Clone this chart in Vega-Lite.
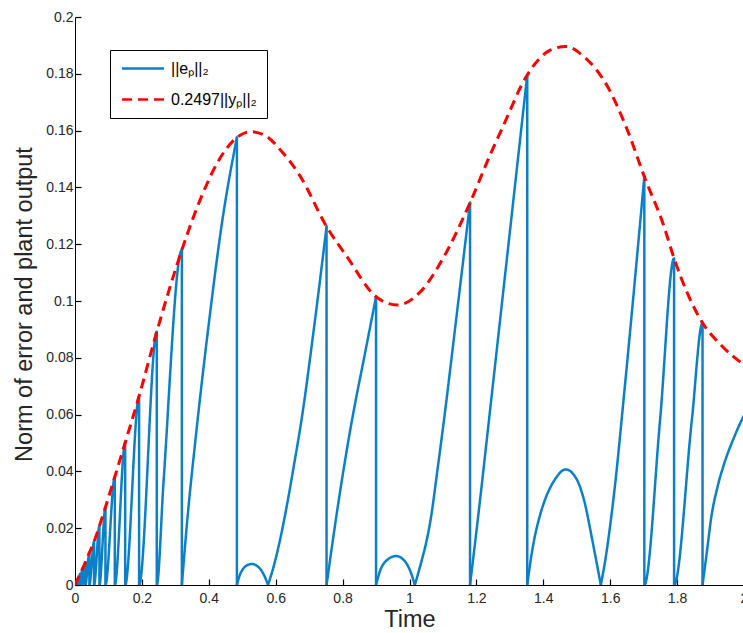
{
  "$schema": "https://vega.github.io/schema/vega-lite/v6.json",
  "width": 669,
  "height": 568,
  "autosize": {"type": "none"},
  "padding": {"left": 75, "top": 17, "right": 0, "bottom": 48},
  "background": "white",
  "config": {
    "view": {"stroke": null},
    "font": "Liberation Sans",
    "axis": {
      "grid": false,
      "domainColor": "black",
      "domainWidth": 1,
      "tickColor": "black",
      "tickSize": -6,
      "tickWidth": 1.2,
      "labelFont": "Liberation Sans",
      "labelFontSize": 14,
      "labelColor": "#262626",
      "labelFlush": false,
      "labelOverlap": false,
      "titleFont": "Liberation Sans",
      "titleFontSize": 23.5,
      "titleFontWeight": "normal",
      "titleColor": "#262626"
    },
    "legend": {
      "strokeColor": "black",
      "fillColor": "white",
      "padding": 10,
      "symbolSize": 196,
      "symbolOffset": 14.5,
      "labelOffset": 19.5,
      "labelFont": "Liberation Sans",
      "labelFontSize": 16,
      "labelColor": "black",
      "rowPadding": 14,
      "symbolStrokeWidth": 2.5,
      "labelLimit": 400
    }
  },
  "datasets": {
    "err": [
      {"series": "||eₚ||₂", "seg": 1, "i": 1, "t": 0, "v": 0},
      {"series": "||eₚ||₂", "seg": 1, "i": 2, "t": 0.005, "v": 0.0013},
      {"series": "||eₚ||₂", "seg": 1, "i": 3, "t": 0.005, "v": 0},
      {"series": "||eₚ||₂", "seg": 1, "i": 4, "t": 0.009, "v": 0.0023},
      {"series": "||eₚ||₂", "seg": 1, "i": 5, "t": 0.009, "v": 0},
      {"series": "||eₚ||₂", "seg": 1, "i": 6, "t": 0.015, "v": 0.0039},
      {"series": "||eₚ||₂", "seg": 1, "i": 7, "t": 0.015, "v": 0},
      {"series": "||eₚ||₂", "seg": 1, "i": 8, "t": 0.022, "v": 0.0057},
      {"series": "||eₚ||₂", "seg": 1, "i": 9, "t": 0.022, "v": 0},
      {"series": "||eₚ||₂", "seg": 1, "i": 10, "t": 0.031, "v": 0.008},
      {"series": "||eₚ||₂", "seg": 1, "i": 11, "t": 0.031, "v": 0},
      {"series": "||eₚ||₂", "seg": 1, "i": 12, "t": 0.043, "v": 0.0114},
      {"series": "||eₚ||₂", "seg": 1, "i": 13, "t": 0.043, "v": 0},
      {"series": "||eₚ||₂", "seg": 1, "i": 14, "t": 0.057, "v": 0.0153},
      {"series": "||eₚ||₂", "seg": 1, "i": 15, "t": 0.057, "v": 0},
      {"series": "||eₚ||₂", "seg": 1, "i": 16, "t": 0.073, "v": 0.0208},
      {"series": "||eₚ||₂", "seg": 1, "i": 17, "t": 0.073, "v": 0},
      {"series": "||eₚ||₂", "seg": 1, "i": 18, "t": 0.091, "v": 0.0274},
      {"series": "||eₚ||₂", "seg": 1, "i": 19, "t": 0.091, "v": 0},
      {"series": "||eₚ||₂", "seg": 1, "i": 20, "t": 0.119, "v": 0.0381},
      {"series": "||eₚ||₂", "seg": 1, "i": 21, "t": 0.119, "v": 0},
      {"series": "||eₚ||₂", "seg": 1, "i": 22, "t": 0.15, "v": 0.0501},
      {"series": "||eₚ||₂", "seg": 1, "i": 23, "t": 0.15, "v": 0},
      {"series": "||eₚ||₂", "seg": 1, "i": 24, "t": 0.1916, "v": 0.0665},
      {"series": "||eₚ||₂", "seg": 1, "i": 25, "t": 0.1916, "v": 0},
      {"series": "||eₚ||₂", "seg": 1, "i": 26, "t": 0.2445, "v": 0.0892},
      {"series": "||eₚ||₂", "seg": 1, "i": 27, "t": 0.2445, "v": 0},
      {"series": "||eₚ||₂", "seg": 1, "i": 28, "t": 0.2645, "v": 0.036},
      {"series": "||eₚ||₂", "seg": 1, "i": 29, "t": 0.3195, "v": 0.118},
      {"series": "||eₚ||₂", "seg": 1, "i": 30, "t": 0.3195, "v": 0},

      {"series": "||eₚ||₂", "seg": 2, "i": 1, "t": 0.3195, "v": 0},
      {"series": "||eₚ||₂", "seg": 2, "i": 2, "t": 0.335, "v": 0.022},
      {"series": "||eₚ||₂", "seg": 2, "i": 3, "t": 0.36, "v": 0.051},
      {"series": "||eₚ||₂", "seg": 2, "i": 4, "t": 0.4, "v": 0.092},
      {"series": "||eₚ||₂", "seg": 2, "i": 5, "t": 0.44, "v": 0.128},
      {"series": "||eₚ||₂", "seg": 2, "i": 6, "t": 0.484, "v": 0.1576},

      {"series": "||eₚ||₂", "seg": 3, "i": 1, "t": 0.484, "v": 0.1576},
      {"series": "||eₚ||₂", "seg": 3, "i": 2, "t": 0.484, "v": 0},

      {"series": "||eₚ||₂", "seg": 4, "i": 1, "t": 0.484, "v": 0},
      {"series": "||eₚ||₂", "seg": 4, "i": 2, "t": 0.492, "v": 0.0033},
      {"series": "||eₚ||₂", "seg": 4, "i": 3, "t": 0.502, "v": 0.0056},
      {"series": "||eₚ||₂", "seg": 4, "i": 4, "t": 0.515, "v": 0.007},
      {"series": "||eₚ||₂", "seg": 4, "i": 5, "t": 0.529, "v": 0.0074},
      {"series": "||eₚ||₂", "seg": 4, "i": 6, "t": 0.543, "v": 0.0068},
      {"series": "||eₚ||₂", "seg": 4, "i": 7, "t": 0.556, "v": 0.0053},
      {"series": "||eₚ||₂", "seg": 4, "i": 8, "t": 0.567, "v": 0.003},
      {"series": "||eₚ||₂", "seg": 4, "i": 9, "t": 0.577, "v": 0},

      {"series": "||eₚ||₂", "seg": 5, "i": 1, "t": 0.577, "v": 0},
      {"series": "||eₚ||₂", "seg": 5, "i": 2, "t": 0.595, "v": 0.007},
      {"series": "||eₚ||₂", "seg": 5, "i": 3, "t": 0.615, "v": 0.017},
      {"series": "||eₚ||₂", "seg": 5, "i": 4, "t": 0.635, "v": 0.029},
      {"series": "||eₚ||₂", "seg": 5, "i": 5, "t": 0.655, "v": 0.0425},
      {"series": "||eₚ||₂", "seg": 5, "i": 6, "t": 0.677, "v": 0.058},
      {"series": "||eₚ||₂", "seg": 5, "i": 7, "t": 0.715, "v": 0.091},
      {"series": "||eₚ||₂", "seg": 5, "i": 8, "t": 0.752, "v": 0.1262},

      {"series": "||eₚ||₂", "seg": 6, "i": 1, "t": 0.752, "v": 0.1262},
      {"series": "||eₚ||₂", "seg": 6, "i": 2, "t": 0.752, "v": 0},

      {"series": "||eₚ||₂", "seg": 7, "i": 1, "t": 0.752, "v": 0},
      {"series": "||eₚ||₂", "seg": 7, "i": 2, "t": 0.79, "v": 0.031},
      {"series": "||eₚ||₂", "seg": 7, "i": 3, "t": 0.828, "v": 0.058},
      {"series": "||eₚ||₂", "seg": 7, "i": 4, "t": 0.866, "v": 0.081},
      {"series": "||eₚ||₂", "seg": 7, "i": 5, "t": 0.9, "v": 0.1015},

      {"series": "||eₚ||₂", "seg": 8, "i": 1, "t": 0.9, "v": 0.1015},
      {"series": "||eₚ||₂", "seg": 8, "i": 2, "t": 0.9, "v": 0},

      {"series": "||eₚ||₂", "seg": 9, "i": 1, "t": 0.9, "v": 0},
      {"series": "||eₚ||₂", "seg": 9, "i": 2, "t": 0.913, "v": 0.0053},
      {"series": "||eₚ||₂", "seg": 9, "i": 3, "t": 0.933, "v": 0.0088},
      {"series": "||eₚ||₂", "seg": 9, "i": 4, "t": 0.96, "v": 0.0102},
      {"series": "||eₚ||₂", "seg": 9, "i": 5, "t": 0.985, "v": 0.0085},
      {"series": "||eₚ||₂", "seg": 9, "i": 6, "t": 1.002, "v": 0.005},
      {"series": "||eₚ||₂", "seg": 9, "i": 7, "t": 1.016, "v": 0},

      {"series": "||eₚ||₂", "seg": 10, "i": 1, "t": 1.016, "v": 0},
      {"series": "||eₚ||₂", "seg": 10, "i": 2, "t": 1.035, "v": 0.008},
      {"series": "||eₚ||₂", "seg": 10, "i": 3, "t": 1.05, "v": 0.015},
      {"series": "||eₚ||₂", "seg": 10, "i": 4, "t": 1.063, "v": 0.0229},
      {"series": "||eₚ||₂", "seg": 10, "i": 5, "t": 1.083, "v": 0.04},
      {"series": "||eₚ||₂", "seg": 10, "i": 6, "t": 1.103, "v": 0.058},
      {"series": "||eₚ||₂", "seg": 10, "i": 7, "t": 1.142, "v": 0.096},
      {"series": "||eₚ||₂", "seg": 10, "i": 8, "t": 1.181, "v": 0.1346},

      {"series": "||eₚ||₂", "seg": 11, "i": 1, "t": 1.181, "v": 0.1346},
      {"series": "||eₚ||₂", "seg": 11, "i": 2, "t": 1.181, "v": 0},

      {"series": "||eₚ||₂", "seg": 12, "i": 1, "t": 1.181, "v": 0},
      {"series": "||eₚ||₂", "seg": 12, "i": 2, "t": 1.21, "v": 0.029},
      {"series": "||eₚ||₂", "seg": 12, "i": 3, "t": 1.2375, "v": 0.058},
      {"series": "||eₚ||₂", "seg": 12, "i": 4, "t": 1.295, "v": 0.119},
      {"series": "||eₚ||₂", "seg": 12, "i": 5, "t": 1.352, "v": 0.1796},

      {"series": "||eₚ||₂", "seg": 13, "i": 1, "t": 1.352, "v": 0.1796},
      {"series": "||eₚ||₂", "seg": 13, "i": 2, "t": 1.352, "v": 0},

      {"series": "||eₚ||₂", "seg": 14, "i": 1, "t": 1.352, "v": 0},
      {"series": "||eₚ||₂", "seg": 14, "i": 2, "t": 1.362, "v": 0.0085},
      {"series": "||eₚ||₂", "seg": 14, "i": 3, "t": 1.372, "v": 0.0155},
      {"series": "||eₚ||₂", "seg": 14, "i": 4, "t": 1.387, "v": 0.0232},
      {"series": "||eₚ||₂", "seg": 14, "i": 5, "t": 1.402, "v": 0.029},
      {"series": "||eₚ||₂", "seg": 14, "i": 6, "t": 1.435, "v": 0.0372},
      {"series": "||eₚ||₂", "seg": 14, "i": 7, "t": 1.467, "v": 0.0407},
      {"series": "||eₚ||₂", "seg": 14, "i": 8, "t": 1.5, "v": 0.0372},
      {"series": "||eₚ||₂", "seg": 14, "i": 9, "t": 1.522, "v": 0.0298},
      {"series": "||eₚ||₂", "seg": 14, "i": 10, "t": 1.547, "v": 0.0155},
      {"series": "||eₚ||₂", "seg": 14, "i": 11, "t": 1.56, "v": 0.0075},
      {"series": "||eₚ||₂", "seg": 14, "i": 12, "t": 1.572, "v": 0},

      {"series": "||eₚ||₂", "seg": 15, "i": 1, "t": 1.572, "v": 0},
      {"series": "||eₚ||₂", "seg": 15, "i": 2, "t": 1.587, "v": 0.01},
      {"series": "||eₚ||₂", "seg": 15, "i": 3, "t": 1.602, "v": 0.0229},
      {"series": "||eₚ||₂", "seg": 15, "i": 4, "t": 1.618, "v": 0.039},
      {"series": "||eₚ||₂", "seg": 15, "i": 5, "t": 1.634, "v": 0.058},
      {"series": "||eₚ||₂", "seg": 15, "i": 6, "t": 1.668, "v": 0.1},
      {"series": "||eₚ||₂", "seg": 15, "i": 7, "t": 1.702, "v": 0.1438},

      {"series": "||eₚ||₂", "seg": 16, "i": 1, "t": 1.702, "v": 0.1438},
      {"series": "||eₚ||₂", "seg": 16, "i": 2, "t": 1.702, "v": 0},
      {"series": "||eₚ||₂", "seg": 16, "i": 3, "t": 1.749, "v": 0.058},
      {"series": "||eₚ||₂", "seg": 16, "i": 4, "t": 1.791, "v": 0.115},
      {"series": "||eₚ||₂", "seg": 16, "i": 5, "t": 1.791, "v": 0},
      {"series": "||eₚ||₂", "seg": 16, "i": 6, "t": 1.844, "v": 0.058},
      {"series": "||eₚ||₂", "seg": 16, "i": 7, "t": 1.876, "v": 0.0923},
      {"series": "||eₚ||₂", "seg": 16, "i": 8, "t": 1.876, "v": 0},

      {"series": "||eₚ||₂", "seg": 17, "i": 1, "t": 1.876, "v": 0},
      {"series": "||eₚ||₂", "seg": 17, "i": 2, "t": 1.891, "v": 0.0135},
      {"series": "||eₚ||₂", "seg": 17, "i": 3, "t": 1.901, "v": 0.0229},
      {"series": "||eₚ||₂", "seg": 17, "i": 4, "t": 1.921, "v": 0.0346},
      {"series": "||eₚ||₂", "seg": 17, "i": 5, "t": 1.941, "v": 0.0428},
      {"series": "||eₚ||₂", "seg": 17, "i": 6, "t": 1.971, "v": 0.0522},
      {"series": "||eₚ||₂", "seg": 17, "i": 7, "t": 2.0, "v": 0.0598}
    ],
    "env": [
      {"series": "0.2497||yₚ||₂", "seg": 0, "i": 1, "t": 0, "v": 0},
      {"series": "0.2497||yₚ||₂", "seg": 0, "i": 2, "t": 0.005, "v": 0.0013},
      {"series": "0.2497||yₚ||₂", "seg": 0, "i": 3, "t": 0.015, "v": 0.0039},
      {"series": "0.2497||yₚ||₂", "seg": 0, "i": 4, "t": 0.031, "v": 0.008},
      {"series": "0.2497||yₚ||₂", "seg": 0, "i": 5, "t": 0.043, "v": 0.0114},
      {"series": "0.2497||yₚ||₂", "seg": 0, "i": 6, "t": 0.057, "v": 0.0153},
      {"series": "0.2497||yₚ||₂", "seg": 0, "i": 7, "t": 0.073, "v": 0.0208},
      {"series": "0.2497||yₚ||₂", "seg": 0, "i": 8, "t": 0.091, "v": 0.0274},
      {"series": "0.2497||yₚ||₂", "seg": 0, "i": 9, "t": 0.119, "v": 0.0381},
      {"series": "0.2497||yₚ||₂", "seg": 0, "i": 10, "t": 0.15, "v": 0.0501},
      {"series": "0.2497||yₚ||₂", "seg": 0, "i": 11, "t": 0.1916, "v": 0.0665},
      {"series": "0.2497||yₚ||₂", "seg": 0, "i": 12, "t": 0.2445, "v": 0.0892},
      {"series": "0.2497||yₚ||₂", "seg": 0, "i": 13, "t": 0.3195, "v": 0.118},
      {"series": "0.2497||yₚ||₂", "seg": 0, "i": 14, "t": 0.374, "v": 0.1356},
      {"series": "0.2497||yₚ||₂", "seg": 0, "i": 15, "t": 0.43, "v": 0.1496},
      {"series": "0.2497||yₚ||₂", "seg": 0, "i": 16, "t": 0.484, "v": 0.1576},
      {"series": "0.2497||yₚ||₂", "seg": 0, "i": 17, "t": 0.524, "v": 0.1596},
      {"series": "0.2497||yₚ||₂", "seg": 0, "i": 18, "t": 0.565, "v": 0.1585},
      {"series": "0.2497||yₚ||₂", "seg": 0, "i": 19, "t": 0.614, "v": 0.1532},
      {"series": "0.2497||yₚ||₂", "seg": 0, "i": 20, "t": 0.674, "v": 0.1438},
      {"series": "0.2497||yₚ||₂", "seg": 0, "i": 21, "t": 0.752, "v": 0.1262},
      {"series": "0.2497||yₚ||₂", "seg": 0, "i": 22, "t": 0.813, "v": 0.1156},
      {"series": "0.2497||yₚ||₂", "seg": 0, "i": 23, "t": 0.9, "v": 0.1015},
      {"series": "0.2497||yₚ||₂", "seg": 0, "i": 24, "t": 0.963, "v": 0.0986},
      {"series": "0.2497||yₚ||₂", "seg": 0, "i": 25, "t": 1.033, "v": 0.1033},
      {"series": "0.2497||yₚ||₂", "seg": 0, "i": 26, "t": 1.103, "v": 0.1156},
      {"series": "0.2497||yₚ||₂", "seg": 0, "i": 27, "t": 1.181, "v": 0.1346},
      {"series": "0.2497||yₚ||₂", "seg": 0, "i": 28, "t": 1.243, "v": 0.152},
      {"series": "0.2497||yₚ||₂", "seg": 0, "i": 29, "t": 1.277, "v": 0.1608},
      {"series": "0.2497||yₚ||₂", "seg": 0, "i": 30, "t": 1.352, "v": 0.1796},
      {"series": "0.2497||yₚ||₂", "seg": 0, "i": 31, "t": 1.422, "v": 0.1884},
      {"series": "0.2497||yₚ||₂", "seg": 0, "i": 32, "t": 1.467, "v": 0.1896},
      {"series": "0.2497||yₚ||₂", "seg": 0, "i": 33, "t": 1.522, "v": 0.186},
      {"series": "0.2497||yₚ||₂", "seg": 0, "i": 34, "t": 1.592, "v": 0.1755},
      {"series": "0.2497||yₚ||₂", "seg": 0, "i": 35, "t": 1.652, "v": 0.16},
      {"series": "0.2497||yₚ||₂", "seg": 0, "i": 36, "t": 1.702, "v": 0.1438},
      {"series": "0.2497||yₚ||₂", "seg": 0, "i": 37, "t": 1.761, "v": 0.1262},
      {"series": "0.2497||yₚ||₂", "seg": 0, "i": 38, "t": 1.791, "v": 0.115},
      {"series": "0.2497||yₚ||₂", "seg": 0, "i": 39, "t": 1.876, "v": 0.0923},
      {"series": "0.2497||yₚ||₂", "seg": 0, "i": 40, "t": 1.931, "v": 0.0845},
      {"series": "0.2497||yₚ||₂", "seg": 0, "i": 41, "t": 2.0, "v": 0.0775}
    ]
  },
  "encoding": {
    "x": {
      "field": "t",
      "type": "quantitative",
      "scale": {"domain": [0, 2], "nice": false},
      "axis": {
        "values": [0, 0.2, 0.4, 0.6, 0.8, 1, 1.2, 1.4, 1.6, 1.8, 2],
        "format": "~g",
        "labelPadding": 12,
        "title": "Time",
        "titleBaseline": "alphabetic",
        "titleY": 41
      }
    },
    "y": {
      "field": "v",
      "type": "quantitative",
      "scale": {"domain": [0, 0.2], "nice": false},
      "axis": {
        "values": [0, 0.02, 0.04, 0.06, 0.08, 0.1, 0.12, 0.14, 0.16, 0.18, 0.2],
        "format": "~g",
        "labelPadding": 8,
        "title": "Norm of error and plant output",
        "titleBaseline": "alphabetic",
        "titleX": -44,
        "titleY": 287
      }
    },
    "color": {
      "field": "series",
      "type": "nominal",
      "scale": {"domain": ["||eₚ||₂", "0.2497||yₚ||₂"], "range": ["#0A80C8", "#FF0000"]},
      "legend": {
        "title": null, "orient": "none", "legendX": 35, "legendY": 33, "symbolType": "M-3,0H3",
        "encode": {"labels": {"update": {"fontSize": {"value": 16}, "font": {"value": "Liberation Sans"}}}}
      }
    },
    "strokeDash": {
      "field": "series",
      "type": "nominal",
      "scale": {"domain": ["||eₚ||₂", "0.2497||yₚ||₂"], "range": [[1, 0], [10, 6]]},
      "legend": {
        "title": null, "orient": "none", "legendX": 35, "legendY": 33, "symbolType": "M-3,0H3",
        "encode": {"labels": {"update": {"fontSize": {"value": 16}, "font": {"value": "Liberation Sans"}}}}
      }
    },
    "detail": {"field": "seg", "type": "nominal"},
    "order": {"field": "i", "type": "quantitative"}
  },
  "layer": [
    {
      "data": {"name": "err"},
      "mark": {"type": "line", "strokeWidth": 2.5, "strokeCap": "round", "strokeJoin": "round", "interpolate": "monotone", "clip": true}
    },
    {
      "data": {"name": "env"},
      "mark": {"type": "line", "strokeWidth": 3, "interpolate": "monotone", "clip": true}
    }
  ]
}
